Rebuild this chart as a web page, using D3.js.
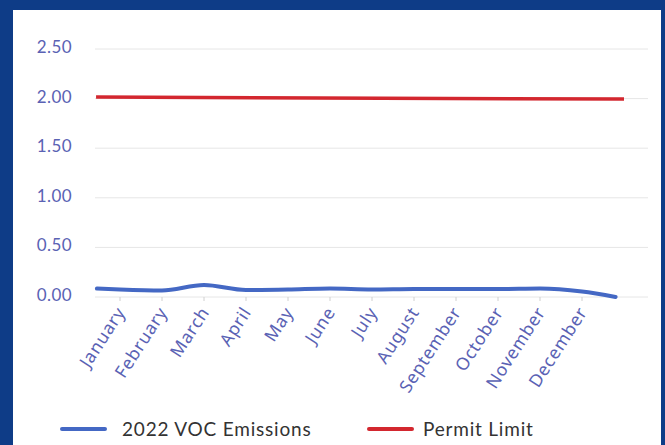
<!DOCTYPE html>
<html>
<head>
<meta charset="utf-8">
<script src="https://cdn.jsdelivr.net/npm/d3@7"></script>
<style>
  body { margin: 0; background: #0e3c87; }
  svg { display: block; }
</style>
</head>
<body>
<svg id="chart" width="665" height="445"></svg>
<script>
// maaneder paa x-aksen
const months = ["January", "February", "March", "April", "May", "June",
  "July", "August", "September", "October", "November", "December"];
// y-akse ticks
const yTicks = [0, 0.5, 1, 1.5, 2, 2.5];
// VOC emissioner, position er maaneds-index (linjen starter lidt foer januar og slutter efter december)
const vocPos = [-0.55, 0, 1, 2, 3, 4, 5, 6, 7, 8, 9, 10, 11, 11.8];
const vocValues = [0.085, 0.075, 0.065, 0.12, 0.07, 0.075, 0.085, 0.075, 0.08, 0.08, 0.08, 0.085, 0.055, 0.0];
// permit limit
const limitPos = [-0.57, 12.0];
const limitValues = [2.015, 1.995];
const legendItems = [
  { name: "2022 VOC Emissions", color: "#4468c4" },
  { name: "Permit Limit", color: "#d3272f" }
];

const svg = d3.select("#chart");

// hvidt panel
svg.append("rect")
  .attr("x", 13).attr("y", 10)
  .attr("width", 648).attr("height", 445)
  .attr("fill", "#fff");

const x = d3.scaleLinear().domain([0, 11]).range([120, 582]);
const y = d3.scaleLinear().domain([0, 2.5]).range([297, 49]);

// gridlinjer
svg.append("g")
  .selectAll("line")
  .data(yTicks)
  .join("line")
  .attr("x1", 95).attr("x2", 648)
  .attr("y1", (d) => y(d)).attr("y2", (d) => y(d))
  .attr("stroke", "#e6e6e6")
  .attr("stroke-width", 1);

// y-akse labels
svg.append("g")
  .selectAll("text")
  .data(yTicks)
  .join("text")
  .attr("x", 72)
  .attr("y", (d) => y(d) - 2)
  .attr("dy", "0.35em")
  .attr("text-anchor", "end")
  .attr("font-family", "Lato, sans-serif")
  .attr("font-size", 17)
  .attr("letter-spacing", 0.4)
  .attr("fill", "#5a62b4")
  .text((d) => d3.format(".2f")(d));

// x-akse tick marks
svg.append("g")
  .selectAll("line")
  .data(months)
  .join("line")
  .attr("x1", (d, i) => x(i)).attr("x2", (d, i) => x(i))
  .attr("y1", 297).attr("y2", 301)
  .attr("stroke", "#d0d0d0");

// maaneds labels, roteret
svg.append("g")
  .selectAll("text")
  .data(months)
  .join("text")
  .attr("transform", (d, i) => `translate(${x(i) + 6},${312}) rotate(-57)`)
  .attr("text-anchor", "end")
  .attr("font-family", "'Noto Sans', sans-serif")
  .attr("font-size", 17.5)
  .attr("letter-spacing", 0.8)
  .attr("fill", "#5a62b4")
  .text((d) => d);

const line = d3.line()
  .x((d) => x(d[0]))
  .y((d) => y(d[1]))
  .curve(d3.curveMonotoneX);

// permit limit linje
svg.append("path")
  .datum(d3.zip(limitPos, limitValues))
  .attr("fill", "none")
  .attr("stroke", legendItems[1].color)
  .attr("stroke-width", 3.5)
  .attr("d", line);

// VOC linje
svg.append("path")
  .datum(d3.zip(vocPos, vocValues))
  .attr("fill", "none")
  .attr("stroke", legendItems[0].color)
  .attr("stroke-width", 4)
  .attr("stroke-linecap", "round")
  .attr("d", line);

// legend
const legendX = [62, 369];
const lg = svg.append("g")
  .selectAll("g")
  .data(legendItems)
  .join("g")
  .attr("transform", (d, i) => `translate(${legendX[i]},429)`);
lg.append("line")
  .attr("x1", 0).attr("x2", 43)
  .attr("stroke", (d) => d.color)
  .attr("stroke-width", 4)
  .attr("stroke-linecap", "round");
lg.append("text")
  .attr("x", (d, i) => (i === 0 ? 60 : 54))
  .attr("dy", "0.35em")
  .attr("font-family", "Lato, sans-serif")
  .attr("font-size", 19)
  .attr("letter-spacing", 0.8)
  .attr("fill", "#333")
  .text((d) => d.name);
</script>
</body>
</html>
